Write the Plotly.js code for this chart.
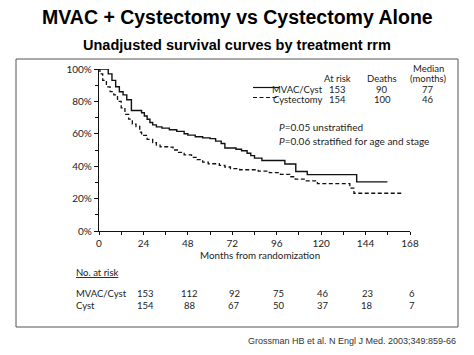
<!DOCTYPE html>
<html>
<head>
<meta charset="utf-8">
<script src="https://cdn.plot.ly/plotly-3.0.1.min.js"></script>
<style>html,body{margin:0;padding:0;background:#fff;}#chart{width:474px;height:355px;}</style>
</head>
<body>
<div id="chart"></div>
<script>
// ---- data ----
const mvacMonths = [0, 5, 7, 9, 11, 13, 15, 17.5, 23, 24.5, 26, 27.5, 29, 31, 34, 38, 42, 46, 48, 52, 56, 60, 63, 66, 68, 74, 77, 80, 82, 84, 88, 100.4, 106.3, 112.5, 139.2, 155.8];
const mvacSurv   = [1.00, 0.97, 0.93, 0.89, 0.86, 0.84, 0.81, 0.744, 0.73, 0.71, 0.69, 0.67, 0.655, 0.643, 0.635, 0.625, 0.615, 0.60, 0.592, 0.582, 0.575, 0.57, 0.555, 0.54, 0.512, 0.505, 0.495, 0.48, 0.465, 0.45, 0.435, 0.414, 0.367, 0.348, 0.303, 0.303];
const cystMonths = [0, 0.5, 2, 4, 6, 8, 10, 12, 14, 16, 18, 20, 22, 23, 26, 29, 31, 33, 38, 40, 43, 46, 50, 53, 56, 59, 65, 68, 71, 76, 86, 92, 98, 103, 106, 112, 118, 135.5, 137.7, 163.5];
const cystSurv   = [1.00, 0.97, 0.93, 0.89, 0.86, 0.84, 0.80, 0.76, 0.72, 0.69, 0.66, 0.645, 0.61, 0.59, 0.565, 0.545, 0.53, 0.52, 0.518, 0.50, 0.485, 0.47, 0.455, 0.44, 0.425, 0.415, 0.405, 0.395, 0.385, 0.378, 0.37, 0.36, 0.35, 0.335, 0.32, 0.31, 0.292, 0.265, 0.233, 0.233];

const xTickVals = [0, 24, 48, 72, 96, 120, 144, 168];
const yTickVals = [0, 0.2, 0.4, 0.6, 0.8, 1.0];
const yTickText = ['0%', '20%', '40%', '60%', '80%', '100%'];

const riskGroups = ['MVAC/Cyst', 'Cyst'];
const riskMVAC = [153, 112, 92, 75, 46, 23, 6];
const riskCyst = [154, 88, 67, 50, 37, 18, 7];
const riskMonths = [25, 49, 73, 97, 121, 145, 169]; // where the printed table columns sit on the month scale

const legendNames = ['MVAC/Cyst', 'Cystectomy'];
const legendAtRisk = [153, 154];
const legendDeaths = [90, 100];
const legendMedian = [77, 46];

// ---- layout helpers (pixel -> paper) ----
const W = 474, H = 355;
const M = {l: 99, r: 64, t: 69, b: 124};
const PW = W - M.l - M.r, PH = H - M.t - M.b;
const XMAX = 168;
const px = x => (x - M.l) / PW;
const py = y => (H - M.b - y) / PH;

const chartFont = 'Lato, "Open Sans", sans-serif';
const narrowFont = '"Liberation Sans Narrow", "Arial Narrow", Lato, sans-serif';
const txtColor = '#222';

const traces = [
  {x: mvacMonths, y: mvacSurv, mode: 'lines', line: {shape: 'hv', color: '#111', width: 1.4}, name: 'MVAC/Cyst', hoverinfo: 'skip'},
  {x: cystMonths, y: cystSurv, mode: 'lines', line: {shape: 'hv', color: '#111', width: 1.3, dash: '4px,2.5px'}, name: 'Cystectomy', hoverinfo: 'skip'}
];

const ann = [];
function A(text, x, y, opts) {
  ann.push(Object.assign({text: text, x: x, y: y, xref: 'paper', yref: 'paper', showarrow: false,
    xanchor: 'center', yanchor: 'middle', borderpad: 0, font: {family: chartFont, size: 10, color: txtColor}}, opts || {}));
}
const lgFont = {family: narrowFont, size: 9.5, color: txtColor};
// titles
A('<b>MVAC + Cystectomy vs Cystectomy Alone</b>', px(237), py(17), {font: {family: '"Liberation Sans", Arial, sans-serif', size: 19.5, color: '#000'}});
A('<b>Unadjusted survival curves by treatment rrm</b>', px(237), py(45), {font: {family: '"Liberation Sans", Arial, sans-serif', size: 14.5, color: '#000'}});
// axis title
A('Months from randomization', px(260), py(255), {font: {family: chartFont, size: 9.8, color: txtColor}});
// legend headers
A('At risk', px(337), py(78.5), {font: lgFont});
A('Deaths', px(382), py(78.5), {font: lgFont});
A('Median', px(428), py(68), {font: lgFont});
A('(months)', px(428), py(78.5), {font: lgFont});
const rowY = [89, 99.5];
for (let i = 0; i < legendNames.length; i++) {
  A(legendNames[i], px(324), py(rowY[i]), {xanchor: 'right', font: lgFont});
  A(String(legendAtRisk[i]), px(337), py(rowY[i]), {font: lgFont});
  A(String(legendDeaths[i]), px(382), py(rowY[i]), {font: lgFont});
  A(String(legendMedian[i]), px(428), py(rowY[i]), {font: lgFont});
}
// p-values
A('<i>P</i>=0.05 unstratified', px(278), py(127), {xanchor: 'left', font: {family: chartFont, size: 10, color: txtColor}});
A('<i>P</i>=0.06 stratified for age and stage', px(278), py(141), {xanchor: 'left', font: {family: chartFont, size: 10, color: txtColor}});
// at-risk table
const tblFont = {family: chartFont, size: 9.5, color: txtColor};
A('<u>No. at risk</u>', px(75), py(272), {xanchor: 'left', font: tblFont});
A(riskGroups[0], px(75), py(293), {xanchor: 'left', font: tblFont});
A(riskGroups[1], px(75), py(305), {xanchor: 'left', font: tblFont});
for (let k = 0; k < riskMonths.length; k++) {
  A(String(riskMVAC[k]), riskMonths[k] / XMAX, py(293), {font: tblFont});
  A(String(riskCyst[k]), riskMonths[k] / XMAX, py(305), {font: tblFont});
}
// citation
A('Grossman HB et al. N Engl J Med. 2003;349:859-66', px(457), py(341), {xanchor: 'right', font: {family: '"Liberation Sans", Arial, sans-serif', size: 9, color: '#333'}});

const shapes = [
  // frame
  {type: 'rect', xref: 'paper', yref: 'paper', x0: px(16), x1: px(458), y0: py(327), y1: py(59), line: {color: '#555', width: 1}},
  // legend samples
  {type: 'line', xref: 'paper', yref: 'paper', x0: px(253), x1: px(279), y0: py(87.5), y1: py(87.5), line: {color: '#111', width: 1.2}},
  {type: 'line', xref: 'paper', yref: 'paper', x0: px(253), x1: px(279), y0: py(97.5), y1: py(97.5), line: {color: '#111', width: 1.2, dash: '4px,2.5px'}}
];

const layout = {
  width: W, height: H,
  margin: M,
  paper_bgcolor: '#fff', plot_bgcolor: '#fff',
  showlegend: false,
  xaxis: {range: [0, XMAX], tickvals: xTickVals, showgrid: false, zeroline: false, showline: true, linecolor: '#111', linewidth: 1.2,
    ticks: 'outside', ticklen: 3, tickcolor: '#111', tickfont: {family: chartFont, size: 10, color: txtColor},
    minor: {dtick: 12, tick0: 0, ticks: 'outside', ticklen: 3, tickcolor: '#111'}, fixedrange: true},
  yaxis: {range: [0, 1], tickvals: yTickVals, ticktext: yTickText, showgrid: false, zeroline: false, showline: true, linecolor: '#111', linewidth: 1.2,
    ticks: 'outside', ticklen: 4, tickcolor: '#111', tickfont: {family: chartFont, size: 10, color: txtColor},
    minor: {dtick: 0.1, tick0: 0, ticks: 'outside', ticklen: 3, tickcolor: '#111'}, fixedrange: true},
  annotations: ann,
  shapes: shapes
};

Plotly.newPlot('chart', traces, layout, {staticPlot: true, displayModeBar: false});
</script>
</body>
</html>
